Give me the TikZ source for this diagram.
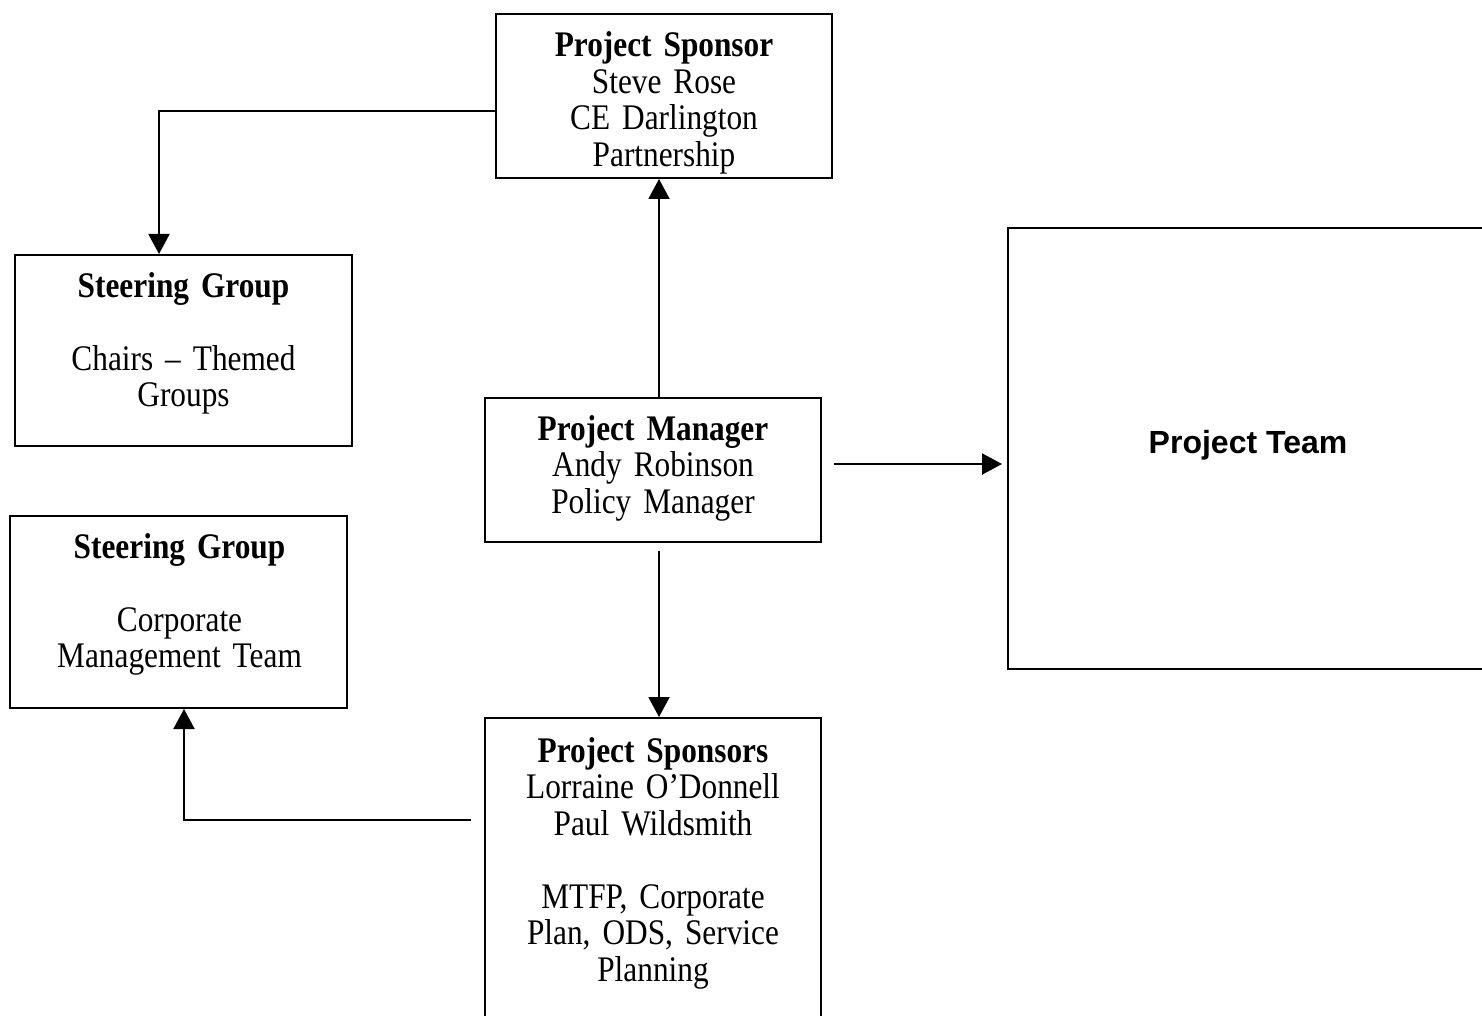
\documentclass[tikz,border=0pt]{standalone}
\usepackage{fontspec}
\setmainfont{Liberation Serif}[FakeStretch=0.87,WordSpace=0.87]
\newfontfamily\teamfont{Liberation Sans}
\usetikzlibrary{arrows.meta,calc}
\begin{document}
\begin{tikzpicture}[x=0.5pt,y=-0.5pt,
  box/.style={draw, line width=1pt, inner sep=0pt},
  txt/.style={anchor=base, text width=170pt, align=center, inner sep=0pt,
    font=\fontsize{18}{18.25}\selectfont},
  arr/.style={line width=1pt, -{Triangle[length=10pt,width=10.5pt]}},
  plain/.style={line width=1pt}]
\useasboundingbox (0,0) rectangle (1482,1016);
\clip (0,0) rectangle (1482,1016);
% boxes
\node[box, minimum width=168pt, minimum height=82pt] (ps) at (664,96) {};
\node[box, minimum width=168.5pt, minimum height=95.5pt] (sg1) at (183.5,350.5) {};
\node[box, minimum width=168pt, minimum height=72pt] (pm) at (653,470) {};
\node[box, minimum width=240pt, minimum height=220.5pt] (pt) at (1248,448.5) {};
\node[box, minimum width=168.5pt, minimum height=96pt] (sg2) at (178.5,612) {};
\node[box, minimum width=168pt, minimum height=161pt] (pss) at (653,879) {};
% texts
\node[inner sep=0pt, font=\teamfont\bfseries\fontsize{16}{19}\selectfont] (pttx) at ($(pt.center)+(0,-3)$) {Project Team};
\node[txt] (pstx) at ($(ps.north)+(0,44)$) {\textbf{Project Sponsor}\\Steve Rose\\CE Darlington\\Partnership};
\node[txt] (sg1tx) at ($(sg1.north)+(0,43)$) {\textbf{Steering Group}\\\mbox{}\\Chairs – Themed\\Groups};
\node[txt] (pmtx) at ($(pm.north)+(0,43)$) {\textbf{Project Manager}\\Andy Robinson\\Policy Manager};
\node[txt] (sg2tx) at ($(sg2.north)+(1,43)$) {\textbf{Steering Group}\\\mbox{}\\Corporate\\Management Team};
\node[txt] (psstx) at ($(pss.north)+(0,45)$) {\textbf{Project Sponsors}\\Lorraine O’Donnell\\Paul Wildsmith\\\mbox{}\\MTFP, Corporate\\Plan, ODS, Service\\Planning};
% connectors
\draw[arr] ($(ps.west)+(0,15)$) -| ($(sg1.north west)+(145,0)$);
\draw[arr] ($(pm.north)+(6,0)$) -- ($(ps.south)+(-5,0)$);
\draw[arr] ($(pm.east)+(12,-6)$) -- ($(pt.west)+(-5,15.5)$);
\draw[arr] ($(pm.south)+(6,8)$) -- ($(pss.north)+(6,0)$);
\draw[arr] ($(pss.north west)+(-13,103)$) -| ($(sg2.south west)+(175,0)$);
\end{tikzpicture}
\end{document}
